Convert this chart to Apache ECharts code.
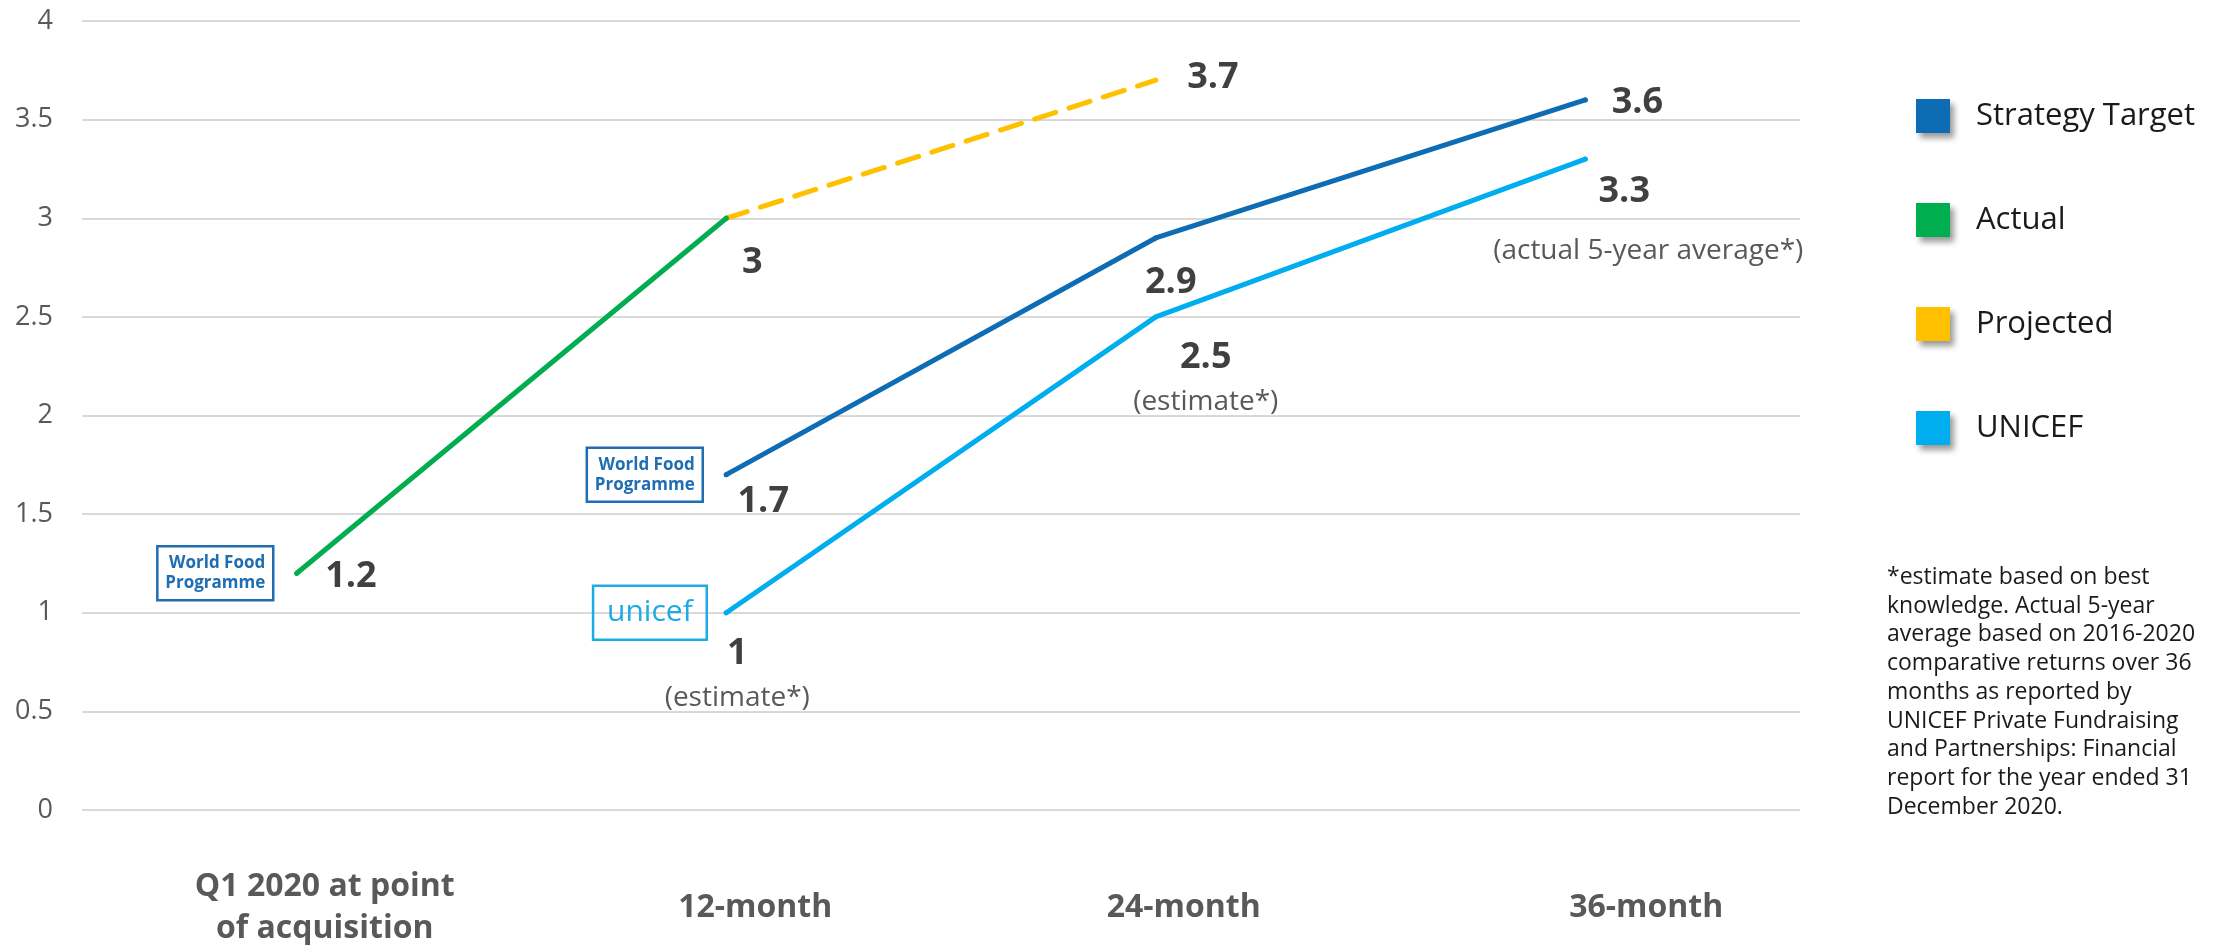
<!DOCTYPE html>
<html>
<head>
<meta charset="utf-8">
<script src="https://cdn.jsdelivr.net/npm/echarts@6/dist/echarts.min.js"></script>
<style>
  html, body { margin: 0; padding: 0; background: #fff; }
  #chart { width: 2229px; height: 945px; }
</style>
</head>
<body>
<div id="chart"></div>
<script>
// data
var categories = ['Q1 2020 at point\nof acquisition', '12-month', '24-month', '36-month'];
var strategyTarget = ['-', 1.7, 2.9, 3.6];
var actual = [1.2, 3, '-', '-'];
var projected = ['-', 3, 3.7, '-'];
var unicef = ['-', 1, 2.5, 3.3];
var unicefNotes = ['', '(estimate*)', '(estimate*)', '(actual 5-year average*)'];
var yMin = 0, yMax = 4, yStep = 0.5;
var footnote = '*estimate based on best\nknowledge. Actual 5-year\naverage based on 2016-2020\ncomparative returns over 36\nmonths as reported by\nUNICEF Private Fundraising\nand Partnerships: Financial\nreport for the year ended 31\nDecember 2020.';

var FONT = '"Open Sans", "Noto Sans", sans-serif';
var colors = {
    strategy: '#0d6cb4',
    actual: '#00ad4f',
    projected: '#ffc000',
    unicef: '#00aeef'
};

var valueText = { fontFamily: FONT, fontSize: 36, fontWeight: 'bold', color: '#404040', lineHeight: 40 };
var noteRich = {
    v: { fontFamily: FONT, fontSize: 36, fontWeight: 'bold', color: '#404040', lineHeight: 40 },
    v2: { fontFamily: FONT, fontSize: 36, fontWeight: 'bold', color: '#404040', lineHeight: 40, padding: [0, 48, 0, 0] },
    n: { fontFamily: FONT, fontSize: 28, fontWeight: 'normal', color: '#595959', lineHeight: 50 },
    n2: { fontFamily: FONT, fontSize: 28, fontWeight: 'normal', color: '#595959', lineHeight: 78 }
};

// label placement per point (null = no label)
var actualLabels = [
    { position: 'right', distance: 26, offset: [0, 3] },
    { position: 'bottom', distance: 22, offset: [26, 0] }
];
var projectedLabels = [null, null, { position: 'right', distance: 31, offset: [0, -2] }];
var strategyLabels = [null,
    { position: 'bottom', distance: 5, offset: [37, 0] },
    { position: 'bottom', distance: 22, offset: [15, 0] },
    { position: 'right', distance: 24, offset: [0, 3] }
];
var unicefLabels = [null,
    { position: 'bottom', distance: 18, offset: [11, 0], vs: 'v', ns: 'n' },
    { position: 'bottom', distance: 18, offset: [50, 0], vs: 'v', ns: 'n' },
    { position: 'bottom', distance: 10, offset: [63, 0], vs: 'v2', ns: 'n2' }
];

function buildData(values, labels, notes) {
    return values.map(function (v, i) {
        var cfg = labels[i];
        if (v === '-') return v;
        if (!cfg) return { value: v, label: { show: false } };
        var lab = Object.assign({ show: true }, valueText, {
            position: cfg.position, distance: cfg.distance, offset: cfg.offset
        });
        if (cfg.position === 'right') lab.verticalAlign = 'middle';
        if (notes && notes[i]) {
            lab.formatter = '{' + cfg.vs + '|' + v + '}\n{' + cfg.ns + '|' + notes[i] + '}';
            lab.rich = noteRich;
            lab.align = 'center';
        } else {
            lab.formatter = String(v);
        }
        return { value: v, label: lab };
    });
}

function logo(idx, val, text, color, style) {
    return {
        symbol: 'rect',
        symbolSize: 1,
        itemStyle: { color: 'rgba(0,0,0,0)' },
        label: Object.assign({
            show: true,
            position: 'left',
            formatter: text,
            color: color,
            fontFamily: FONT,
            borderColor: color,
            borderWidth: 2.5
        }, style),
        data: [{ coord: [idx, val] }]
    };
}

function lineSeries(name, color, data, extra) {
    return Object.assign({
        name: name,
        type: 'line',
        data: data,
        symbol: 'circle',
        symbolSize: 5,
        itemStyle: { color: color },
        lineStyle: { color: color, width: 5, cap: 'round' },
        z: 3
    }, extra || {});
}

var wfpStyle = { fontSize: 17, fontWeight: 'bold', lineHeight: 20, padding: [8, 8, 6, 8], distance: 23 };

var myChart = echarts.init(document.getElementById('chart'));
var option = {
    animation: false,
    title: {
        text: footnote,
        left: 1887,
        top: 563,
        padding: 0,
        textStyle: { fontFamily: FONT, fontSize: 23, fontWeight: 'normal', color: '#1a1a1a', lineHeight: 28.75 }
    },
    legend: {
        orient: 'vertical',
        left: 1911,
        top: 94,
        icon: 'rect',
        itemWidth: 34,
        itemHeight: 34,
        itemGap: 70,
        data: ['Strategy Target', 'Actual', 'Projected', 'UNICEF'],
        itemStyle: { borderWidth: 0, shadowBlur: 6, shadowColor: 'rgba(0,0,0,0.4)', shadowOffsetX: 4, shadowOffsetY: 5 },
        textStyle: { fontFamily: FONT, fontSize: 31, color: '#1a1a1a', lineHeight: 34, padding: [0, 0, 0, 21] }
    },
    grid: { left: 82, right: 429, top: 21, bottom: 135, containLabel: false, outerBoundsMode: 'none' },
    xAxis: {
        type: 'category',
        data: categories,
        boundaryGap: true,
        axisLine: { show: false },
        axisTick: { show: false },
        axisLabel: {
            margin: 98,
            verticalAlign: 'middle',
            formatter: function (v, i) {
                return v.split('\n').map(function (s) { return '{c' + i + '|' + s + '}'; }).join('\n');
            },
            rich: (function () {
                var pads = [56, 58, 56, 122];
                var r = {};
                pads.forEach(function (p, i) {
                    r['c' + i] = { fontFamily: FONT, fontSize: 32, fontWeight: 'bold', color: '#595959', lineHeight: 42, padding: [0, 0, 0, p] };
                });
                return r;
            })()
        }
    },
    yAxis: {
        type: 'value',
        min: yMin,
        max: yMax,
        interval: yStep,
        axisLine: { show: false },
        axisTick: { show: false },
        axisLabel: { margin: 29, fontFamily: FONT, fontSize: 27, color: '#595959' },
        splitLine: { lineStyle: { color: '#d9d9d9', width: 2 } }
    },
    series: [
        lineSeries('Strategy Target', colors.strategy, buildData(strategyTarget, strategyLabels),
            { markPoint: logo(1, strategyTarget[1], 'World Food\nProgramme', '#1f6db3', wfpStyle) }),
        lineSeries('Actual', colors.actual, buildData(actual, actualLabels),
            { markPoint: logo(0, actual[0], 'World Food\nProgramme', '#1f6db3', wfpStyle), z: 4 }),
        lineSeries('Projected', colors.projected, buildData(projected, projectedLabels),
            { lineStyle: { color: colors.projected, width: 5, type: [22, 14], cap: 'round' }, symbolSize: 1 }),
        lineSeries('UNICEF', colors.unicef, buildData(unicef, unicefLabels, unicefNotes),
            { markPoint: logo(1, unicef[1], 'unicef', '#1cabe2', { fontSize: 30, lineHeight: 36, padding: [9, 14, 9, 14], distance: 19 }) })
    ]
};

myChart.setOption(option);
</script>
</body>
</html>
